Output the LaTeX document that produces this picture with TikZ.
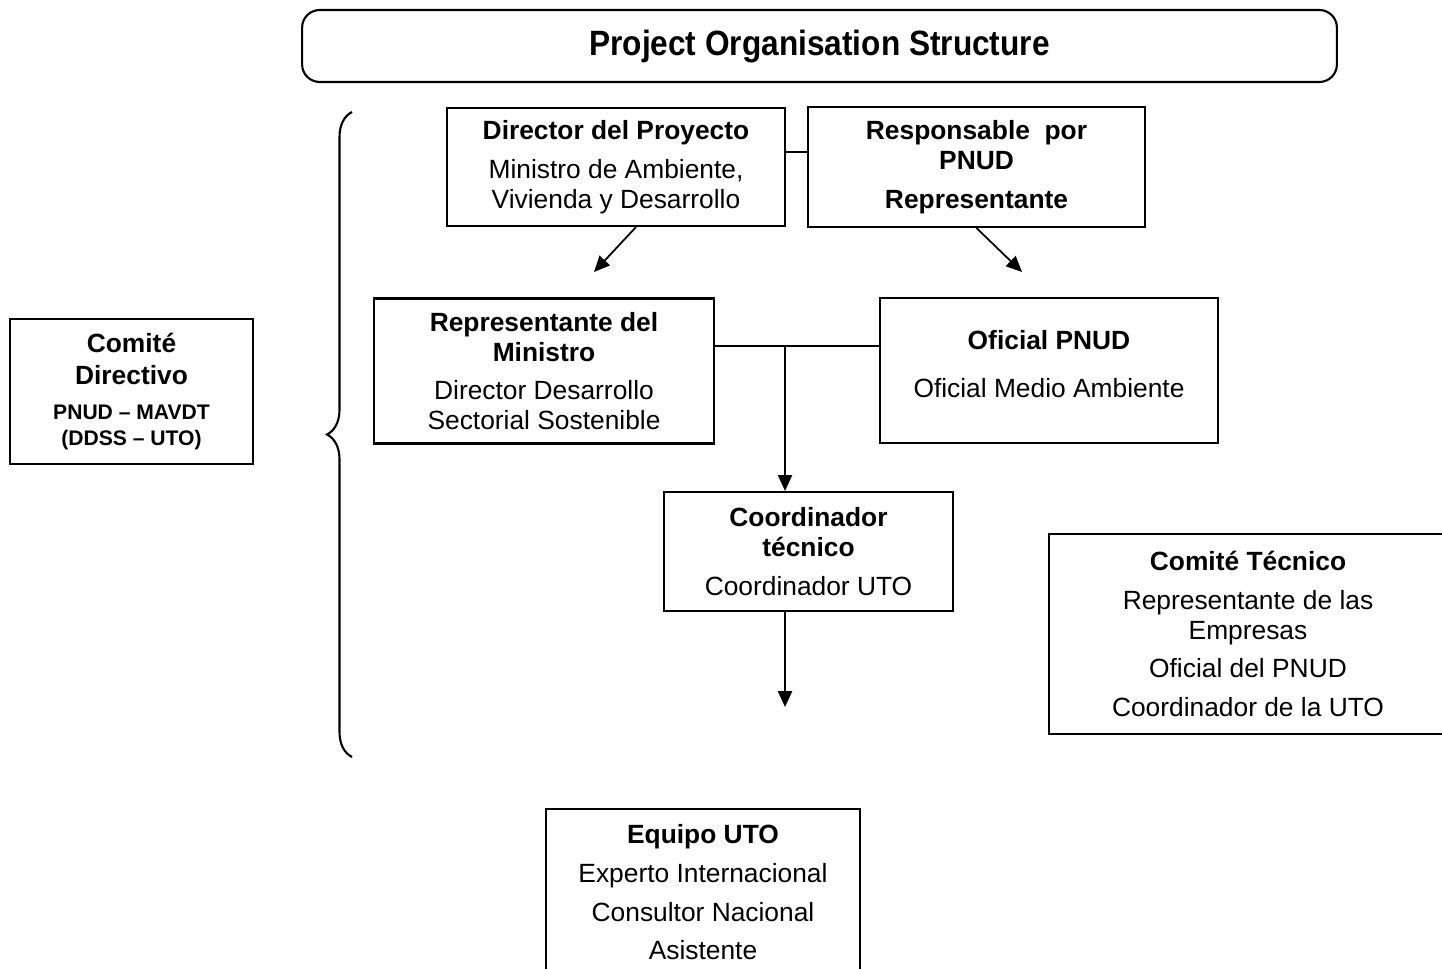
\documentclass[tikz,border=0pt]{standalone}
\usepackage{fontspec}
\setmainfont{Liberation Sans}
\usetikzlibrary{arrows.meta,calc,decorations.pathreplacing}
\newcommand{\smallbf}[1]{\fontsize{12}{14}\selectfont\bfseries #1}
\tikzset{
  box/.style={draw, line width=1.2pt, align=center, inner sep=0pt,
              font=\fontsize{15}{17}\selectfont},
  link/.style={line width=1pt},
  arr/.style={line width=1pt, -{Triangle[length=9pt,width=8pt]}}
}
\begin{document}
\begin{tikzpicture}[x=0.02cm, y=-0.02cm]
  \useasboundingbox (0,0) rectangle (1442,969);
  % title
  \node[box, rounded corners=10pt, minimum width=20.7cm, minimum height=1.44cm] (title) at (819.5,46)
    {\fontsize{20}{24}\selectfont\bfseries\scalebox{0.9}[1]{Project Organisation Structure}};

  % top row
  \node[box, minimum width=6.76cm, minimum height=2.36cm] (dir) at (616,167)
    {\textbf{Director del Proyecto}\\[5pt] Ministro de Ambiente,\\ Vivienda y Desarrollo};
  \node[box, minimum width=6.74cm, minimum height=2.4cm] (resp) at (976.5,167)
    {\textbf{Responsable\ \ por}\\ \textbf{PNUD}\\[5pt] \textbf{Representante}};

  % second row
  \node[box, minimum width=6.8cm, minimum height=2.9cm] (repmin) at (544,371)
    {\textbf{Representante del}\\ \textbf{Ministro}\\[5pt] Director Desarrollo\\ Sectorial Sostenible};
  \node[box, minimum width=6.76cm, minimum height=2.9cm] (ofi) at (1049,370.5)
    {\textbf{Oficial PNUD}\\[10pt] Oficial Medio Ambiente\\[-9.5pt]};

  \node[box, minimum width=5.78cm, minimum height=2.38cm] (coord) at (808.5,551.5)
    {\textbf{Coordinador}\\ \textbf{técnico}\\[5pt] Coordinador UTO};

  % side boxes
  \node[box, minimum width=4.86cm, minimum height=2.9cm] (comdir) at (131.5,391.5)
    {\textbf{Comité}\\[1pt] \textbf{Directivo}\\[3pt]
     \smallbf{PNUD -- MAVDT}\\[-2pt] \smallbf{(DDSS -- UTO)}};
  \node[box, minimum width=7.96cm, minimum height=4cm] (comtec) at (1248,634)
    {\textbf{Comité Técnico}\\[5pt] Representante de las\\ Empresas\\[5pt]
     Oficial del PNUD\\[5pt] Coordinador de la UTO};
  \node[box, minimum width=6.28cm, minimum height=3.34cm] (equipo) at (703,892.5)
    {\textbf{Equipo UTO}\\[5pt] Experto Internacional\\[5pt] Consultor Nacional\\[5pt] Asistente};

  % connectors
  \coordinate (a1) at (594,272);
  \coordinate (a2) at (1022,272);
  \coordinate (j) at (785,346);
  \coordinate (down) at (785,707);
  \draw[link] ($(dir.east)+(0,-15)$) -- ($(resp.west)+(0,-15)$);
  \draw[arr] ([xshift=0.4cm]dir.south) -- (a1);
  \draw[arr] (resp.south) -- (a2);
  \draw[link] (repmin.east |- j) -- (ofi.west |- j);
  \draw[arr] (j) -- (coord.north -| j);
  \draw[arr] (coord.south -| down) -- (down);

  % brace
  \draw[line width=1.2pt, decorate, decoration={brace, amplitude=0.5cm}] (352,757) -- (352,112);
\end{tikzpicture}
\end{document}
